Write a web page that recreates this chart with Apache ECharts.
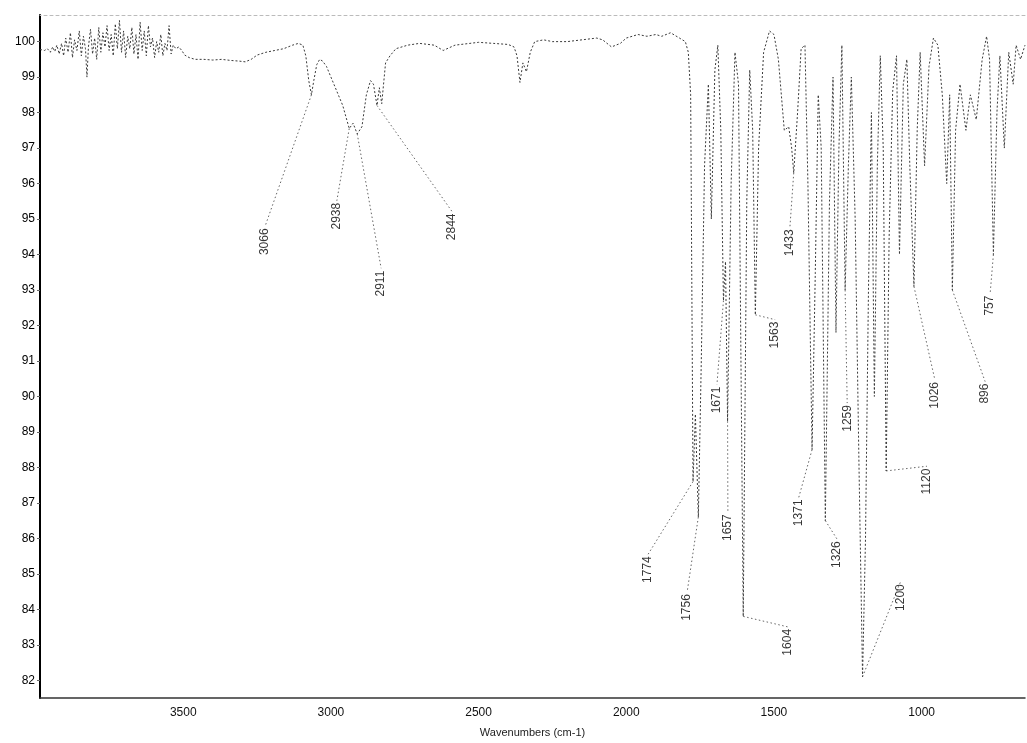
<!DOCTYPE html>
<html><head><meta charset="utf-8">
<script src="https://cdn.jsdelivr.net/npm/echarts@6/dist/echarts.min.js"></script>
<style>html,body{margin:0;padding:0;background:#fff}#c{width:1027px;height:743px}</style>
</head><body><div id="c"></div>
<script>
// IR spectrum: [wavenumber (cm-1), transmittance (%)]
const spectrum = [
[3985,99.78],[3970,99.75],[3960,99.8],[3950,99.7],[3942,99.85],[3935,99.72],[3928,99.9],[3920,99.65],
[3912,99.95],[3905,99.6],[3898,100.1],[3890,99.7],[3882,100.25],[3875,99.55],[3868,100.05],[3860,99.75],
[3852,100.3],[3845,99.6],[3838,100.15],[3831,99.8],[3826,99.0],[3821,99.85],[3814,100.35],[3807,99.65],
[3800,100.1],[3793,99.5],[3786,100.4],[3779,99.7],[3772,100.25],[3765,99.85],[3758,100.45],[3751,99.75],
[3744,100.2],[3737,99.6],[3730,100.5],[3723,99.8],[3716,100.6],[3709,99.7],[3702,100.3],[3695,99.55],
[3688,100.15],[3681,99.8],[3674,100.4],[3667,99.65],[3660,100.2],[3653,99.5],[3646,100.55],[3639,99.75],
[3632,100.3],[3625,99.6],[3618,100.45],[3611,99.85],[3604,100.1],[3597,99.55],[3590,100.0],[3583,99.7],
[3576,100.2],[3569,99.6],[3562,99.95],[3555,99.75],[3548,100.45],[3541,99.65],[3534,99.9],[3525,99.8],
[3515,99.85],[3505,99.75],[3495,99.62],[3480,99.55],[3460,99.5],[3430,99.5],[3400,99.48],[3370,99.5],
[3340,99.47],[3310,99.45],[3290,99.43],[3270,99.5],[3250,99.62],[3220,99.7],[3190,99.75],[3160,99.8],
[3130,99.9],[3110,99.95],[3095,99.9],[3085,99.6],[3075,98.9],[3066,98.5],[3058,98.9],[3048,99.35],
[3038,99.5],[3028,99.45],[3015,99.3],[3000,99.0],[2980,98.6],[2960,98.2],[2938,97.55],[2925,97.7],
[2911,97.4],[2895,97.6],[2880,98.5],[2866,98.9],[2856,98.8],[2844,98.2],[2836,98.7],[2828,98.25],
[2815,99.4],[2800,99.6],[2780,99.8],[2740,99.9],[2700,99.95],[2650,99.9],[2620,99.75],[2580,99.9],
[2500,99.98],[2450,99.95],[2400,99.92],[2380,99.85],[2370,99.6],[2360,98.85],[2350,99.4],[2338,99.15],
[2325,99.7],[2310,100.0],[2280,100.05],[2250,100.0],[2200,100.0],[2150,100.05],[2100,100.1],[2080,100.05],
[2050,99.85],[2020,99.95],[2000,100.1],[1960,100.2],[1930,100.15],[1900,100.2],[1880,100.15],[1850,100.25],
[1820,100.1],[1800,100.0],[1790,99.7],[1782,98.5],[1774,87.6],[1766,89.5],[1756,86.6],[1746,91.0],
[1735,96.5],[1722,98.8],[1712,95.0],[1700,99.2],[1690,99.9],[1680,97.5],[1671,92.7],[1664,93.8],
[1657,89.3],[1645,96.0],[1632,99.7],[1620,98.8],[1604,83.8],[1592,95.5],[1582,99.2],[1572,97.5],
[1563,92.3],[1552,97.0],[1535,99.7],[1515,100.3],[1500,100.2],[1485,99.5],[1465,97.5],[1450,97.6],
[1440,97.0],[1433,96.3],[1420,98.0],[1408,99.8],[1395,99.9],[1385,96.0],[1371,88.5],[1360,93.5],
[1350,98.5],[1340,97.0],[1326,86.5],[1312,95.5],[1300,99.0],[1290,91.8],[1280,97.0],[1270,99.9],
[1259,93.0],[1248,96.5],[1238,99.0],[1225,95.0],[1212,88.0],[1200,82.1],[1190,86.0],[1180,93.0],
[1170,98.0],[1160,90.0],[1150,96.5],[1140,99.6],[1130,97.0],[1120,87.9],[1110,94.5],[1098,98.6],
[1085,99.6],[1075,94.0],[1062,98.8],[1050,99.5],[1040,96.5],[1026,93.1],[1015,97.5],[1005,99.7],
[990,96.5],[975,99.3],[960,100.1],[945,99.9],[930,98.5],[915,96.0],[905,98.5],[896,93.0],
[885,97.5],[870,98.8],[850,97.5],[835,98.5],[815,97.8],[795,99.5],[780,100.15],[770,99.5],
[757,94.0],[745,98.0],[735,99.6],[720,97.0],[705,99.7],[690,98.8],[680,99.9],[665,99.5],[650,99.9]
];
// labelled peaks (cm-1)
const peakWavenumbers = [3066,2938,2911,2844,1774,1756,1671,1657,1604,1563,1433,1371,1326,1259,1200,1120,1026,896,757];
const xTickValues = [3500,3000,2500,2000,1500,1000];
const yTickValues = [82,83,84,85,86,87,88,89,90,91,92,93,94,95,96,97,98,99,100];

// layout: where each peak label is centred, in axis units [wavenumber, %T]
const labelLayout = {
  3066:[3223,94.36], 2938:[2980,95.08], 2911:[2830,93.18], 2844:[2590,94.78],
  1774:[1926,85.12], 1756:[1794,84.05], 1671:[1693,89.9], 1657:[1656,86.3],
  1604:[1452,83.07], 1563:[1496,91.73], 1433:[1446,94.33], 1371:[1416,86.72],
  1326:[1286,85.54], 1259:[1252,89.38], 1200:[1072,84.33], 1120:[982,87.6],
  1026:[955,90.03], 896:[785,90.08], 757:[768,92.56]
};

const FONT = "'Liberation Sans', Arial, sans-serif";
const pxPerUnitY = 35.6;
const lookup = wn => spectrum.find(p => p[0] === wn)[1];

const labelData = peakWavenumbers.map(wn => [labelLayout[wn][0], labelLayout[wn][1], String(wn)]);
const leaderData = peakWavenumbers.map(wn => {
  const s = String(wn);
  const half = (s.length * 6.7 / 2 + 2) / pxPerUnitY;
  return { coords: [[wn, lookup(wn)], [labelLayout[wn][0], labelLayout[wn][1] + half]] };
});

const chart = echarts.init(document.getElementById('c'), null, {renderer:'canvas'});
chart.setOption({
  animation: false,
  backgroundColor: '#fff',
  grid: {left: 40, right: 2, top: 15, bottom: 42},
  xAxis: [{
    type: 'value', inverse: true, min: 650, max: 3985,
    axisLine: {show: true, onZero: false, lineStyle: {color: '#333', width: 1.5}},
    axisTick: {show: false}, splitLine: {show: false},
    axisLabel: {customValues: xTickValues, formatter: v => String(v), color: '#111', fontSize: 12, margin: 9, fontFamily: FONT},
    name: 'Wavenumbers (cm-1)', nameLocation: 'middle', nameGap: 29,
    nameTextStyle: {fontSize: 11, color: '#222', fontFamily: FONT}
  }, {
    type: 'value', position: 'top', inverse: true, min: 650, max: 3985,
    axisLine: {show: true, onZero: false, lineStyle: {color: '#bbb', width: 1, type: [3, 3]}},
    axisTick: {show: false}, axisLabel: {show: false}, splitLine: {show: false}
  }],
  yAxis: {
    type: 'value', min: 81.5, max: 100.75,
    axisLine: {show: true, onZero: false, lineStyle: {color: '#000', width: 2}},
    axisTick: {show: true, customValues: yTickValues, length: 3, lineStyle: {color: '#666'}},
    axisLabel: {customValues: yTickValues, formatter: v => String(v), color: '#000', fontSize: 12, margin: 5, fontFamily: FONT},
    splitLine: {show: false}
  },
  series: [{
    type: 'line', data: spectrum, showSymbol: false, symbol: 'none',
    lineStyle: {color: '#3a3a3a', width: 1, type: [2, 2]}, silent: true, z: 3
  }, {
    type: 'lines', coordinateSystem: 'cartesian2d', data: leaderData,
    lineStyle: {color: '#666', width: 1, type: [1.5, 2.5], opacity: 1}, silent: true, z: 2
  }, {
    type: 'scatter', data: labelData, symbolSize: 0, silent: true, z: 4,
    label: {show: true, position: 'inside', rotate: 90, formatter: p => p.value[2],
            color: '#000', fontSize: 12, fontFamily: FONT}
  }]
});
</script></body></html>
